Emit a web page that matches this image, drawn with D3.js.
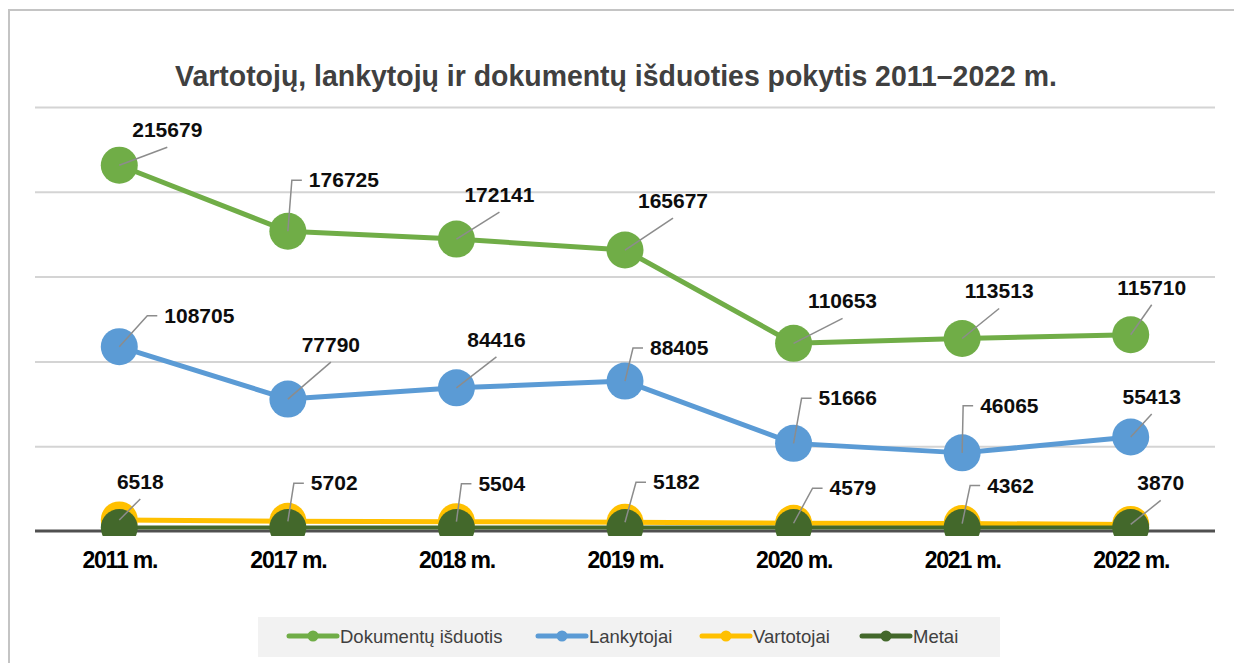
<!DOCTYPE html>
<html>
<head>
<meta charset="utf-8">
<style>
  body { margin: 0; background: #fff; }
  svg { display: block; }
</style>
</head>
<body>
<div id="container"></div>
<script src="https://cdn.jsdelivr.net/npm/d3@7"></script>
<script>

// Data
const years = ["2011 m.", "2017 m.", "2018 m.", "2019 m.", "2020 m.", "2021 m.", "2022 m."];
const dokumentai = [215679, 176725, 172141, 165677, 110653, 113513, 115710];
const lankytojai = [108705, 77790, 84416, 88405, 51666, 46065, 55413];
const vartotojai = [6518, 5702, 5504, 5182, 4579, 4362, 3870];
const metai = [2011, 2017, 2018, 2019, 2020, 2021, 2022];
const yTicks = [0, 50000, 100000, 150000, 200000, 250000];
const seriesNames = ["Dokumentų išduotis", "Lankytojai", "Vartotojai", "Metai"];
const title = "Vartotojų, lankytojų ir dokumentų išduoties pokytis 2011–2022 m.";

// Layout of the hand-placed data labels: [leader style, dx, dy of text anchor]
// "d" = diagonal leader, text centred; "e" = elbow leader, text starts at dx
const labelsGreen = [["d", 48, -28], ["e", 21, -44], ["d", 43, -37], ["d", 48, -42], ["d", 49, -35], ["d", 37, -40], ["d", 21, -40]];
const labelsBlue = [["e", 45, -24], ["d", 43, -47], ["d", 40, -41], ["e", 25, -26], ["e", 25, -38], ["e", 18, -40], ["d", 21, -33]];
const labelsYellow = [["d", 21, -31], ["e", 23, -31], ["e", 22, -31], ["e", 28, -33], ["e", 36, -28], ["e", 25, -31], ["d", 30, -34]];

const width = 1234;
const height = 663;
const plotLeft = 35;
const plotRight = 1215;
const plotTop = 107;
const plotBottom = 531;

const colors = ["#70ad47", "#5b9bd5", "#ffc000", "#43682b"];
const series = [
    { name: seriesNames[0], values: dokumentai, color: colors[0], width: 5, labels: labelsGreen },
    { name: seriesNames[1], values: lankytojai, color: colors[1], width: 5, labels: labelsBlue },
    { name: seriesNames[2], values: vartotojai, color: colors[2], width: 5, labels: labelsYellow },
    { name: seriesNames[3], values: metai, color: colors[3], width: 4, labels: null }
];

const x = d3.scalePoint()
    .domain(years)
    .range([plotLeft, plotRight])
    .padding(0.5);

const y = d3.scaleLinear()
    .domain([0, 250000])
    .range([plotBottom, plotTop]);

const svg = d3.create("svg")
    .attr("width", width)
    .attr("height", height);

// chart frame
svg.append("rect")
    .attr("x", 9).attr("y", 10)
    .attr("width", 1300).attr("height", 700)
    .attr("fill", "#fff")
    .attr("stroke", "#c4c4c4")
    .attr("stroke-width", 2);

// title
svg.append("text")
    .attr("x", 616)
    .attr("y", 86)
    .attr("text-anchor", "middle")
    .attr("font-family", "'Liberation Sans Narrow', 'Liberation Sans', Arial, sans-serif")
    .attr("font-weight", "bold")
    .attr("font-size", 29)
    .attr("fill", "#404040")
    .attr("textLength", 882)
    .attr("lengthAdjust", "spacingAndGlyphs")
    .text(title);

// gridlines
svg.append("g")
    .attr("transform", `translate(${plotLeft},0)`)
    .call(d3.axisLeft(y).tickValues(yTicks.slice(1)).tickSize(-(plotRight - plotLeft)).tickFormat(""))
    .call(g => g.select(".domain").remove())
    .call(g => g.selectAll(".tick line").attr("stroke", "#d4d4d4").attr("stroke-width", 2));

// x axis (baseline + labels)
svg.append("g")
    .attr("transform", `translate(0,${plotBottom})`)
    .call(d3.axisBottom(x).tickSize(0).tickPadding(0))
    .call(g => g.select(".domain")
        .attr("d", `M${plotLeft},0H${plotRight}`)
        .attr("stroke", "#505050")
        .attr("stroke-width", 3))
    .call(g => g.selectAll(".tick text")
        .attr("y", 37)
        .attr("dy", 0)
        .attr("font-family", "'Liberation Sans', Arial, sans-serif")
        .attr("font-weight", "bold")
        .attr("font-size", 23)
        .attr("letter-spacing", -1.2)
        .attr("fill", "#000"));

// series
svg.append("clipPath").attr("id", "plotclip")
    .append("rect")
    .attr("x", 0).attr("y", 0)
    .attr("width", width).attr("height", plotBottom + 5);

const plot = svg.append("g").attr("clip-path", "url(#plotclip)");

const line = d3.line()
    .x((d, i) => x(years[i]))
    .y(d => y(d));

for (const s of series) {
    plot.append("path")
        .attr("fill", "none")
        .attr("stroke", s.color)
        .attr("stroke-width", s.width)
        .attr("stroke-linejoin", "round")
        .attr("d", line(s.values));
    plot.append("g")
        .selectAll("circle")
        .data(s.values)
        .join("circle")
        .attr("cx", (d, i) => x(years[i]))
        .attr("cy", d => y(d))
        .attr("r", 18.5)
        .attr("fill", s.color);
}

// data labels with leader lines
const labelG = svg.append("g");
for (const s of series) {
    if (!s.labels) continue;
    s.values.forEach((v, i) => {
        const px = x(years[i]);
        const py = y(v);
        const [mode, dx, dy] = s.labels[i];
        const pts = mode === "d"
            ? [[px, py], [px + dx, py + dy + 10]]
            : [[px, py], [px + dx - 17, py + dy - 7], [px + dx - 7, py + dy - 7]];
        labelG.append("path")
            .attr("fill", "none")
            .attr("stroke", "#8c8c8c")
            .attr("stroke-width", 1.5)
            .attr("d", d3.line()(pts));
        labelG.append("text")
            .attr("x", px + dx)
            .attr("y", py + dy)
            .attr("text-anchor", mode === "d" ? "middle" : "start")
            .attr("font-family", "'Liberation Sans', Arial, sans-serif")
            .attr("font-weight", "bold")
            .attr("font-size", 21)
            .attr("fill", "#0d0d0d")
            .text(v);
    });
}

// legend
const legendX = [289, 538, 702, 862];
const legend = svg.append("g");
legend.append("rect")
    .attr("x", 258).attr("y", 617)
    .attr("width", 742).attr("height", 40)
    .attr("fill", "#f2f2f2");

series.forEach((s, i) => {
    const g = legend.append("g").attr("transform", `translate(${legendX[i]},636)`);
    g.append("line")
        .attr("x1", 0).attr("x2", 48)
        .attr("stroke", s.color)
        .attr("stroke-width", 5)
        .attr("stroke-linecap", "round");
    g.append("circle")
        .attr("cx", 24).attr("r", 5.5)
        .attr("fill", s.color);
    g.append("text")
        .attr("x", 51)
        .attr("y", 7)
        .attr("font-family", "'Liberation Sans', Arial, sans-serif")
        .attr("font-size", 18.5)
        .attr("fill", "#404040")
        .text(s.name);
});

container.append(svg.node());
</script>
</body>
</html>
